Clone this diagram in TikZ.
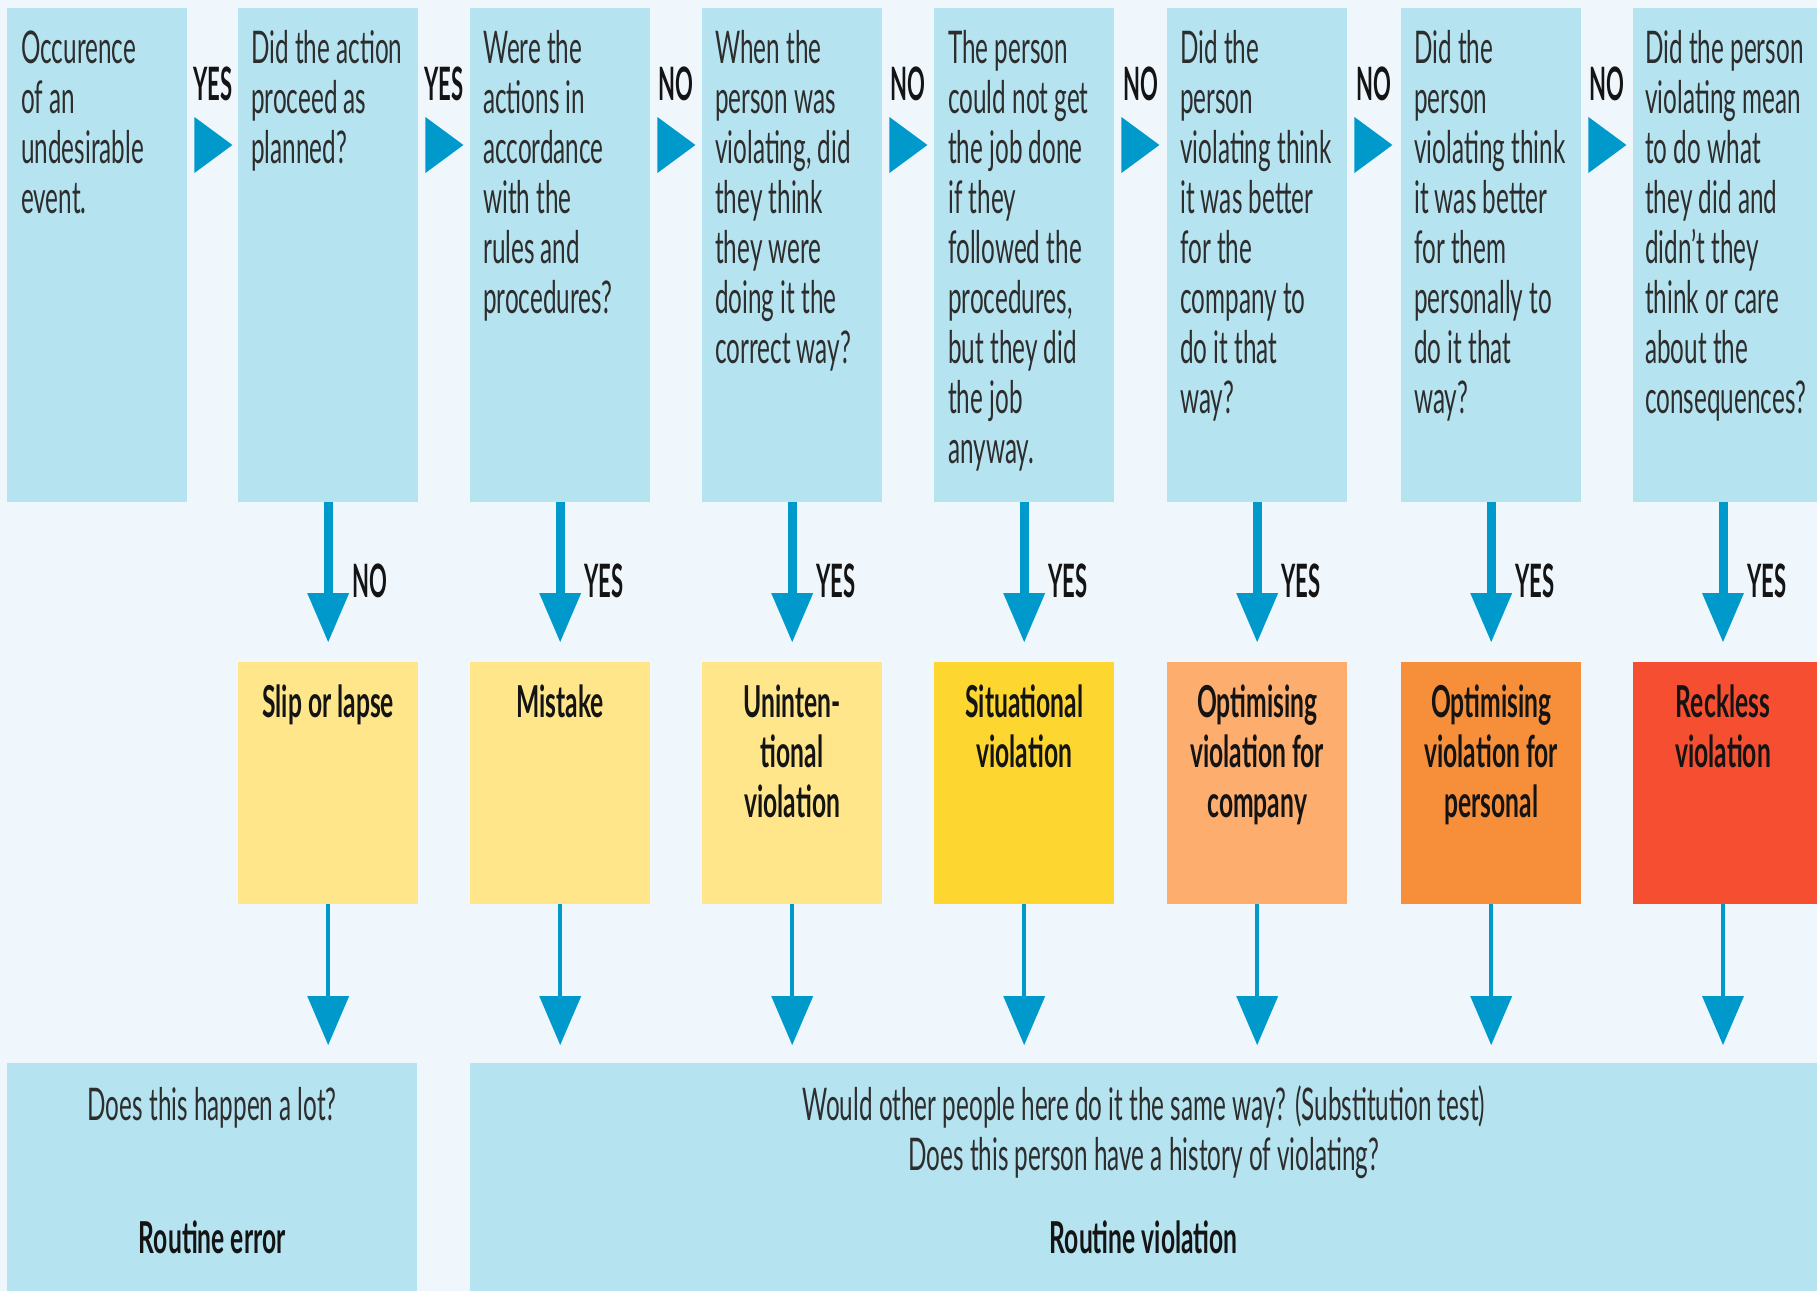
\documentclass[tikz,border=0pt]{standalone}
\usepackage{fontspec}
\setmainfont{Lato}[FakeStretch=0.54]
\newfontfamily\lblfont{Lato}[FakeStretch=0.48]
\newfontfamily\resfont{Lato}[FakeStretch=0.56]
\usetikzlibrary{arrows.meta,calc}
\definecolor{bg}{RGB}{239,247,253}
\definecolor{qblue}{RGB}{181,227,240}
\definecolor{ablue}{RGB}{0,153,204}
\definecolor{ylight}{RGB}{255,230,138}
\definecolor{ysit}{RGB}{254,214,48}
\definecolor{ocomp}{RGB}{253,173,110}
\definecolor{opers}{RGB}{247,143,58}
\definecolor{reck}{RGB}{245,78,48}
\definecolor{txt}{RGB}{45,45,45}
\definecolor{lbl}{RGB}{20,20,20}
\newcommand\firstln{\rule{0pt}{35pt}}
\begin{document}
\begin{tikzpicture}[x=1pt,y=-1pt,
  qbox/.style={rectangle, fill=qblue, draw=none, minimum width=180pt, minimum height=494pt, anchor=north west, inner sep=0pt},
  rbox/.style={rectangle, draw=none, minimum width=180pt, minimum height=242pt, anchor=north west, inner sep=0pt},
  bbox/.style={rectangle, fill=qblue, draw=none, minimum height=228pt, anchor=north west, inner sep=0pt},
  qtext/.style={anchor=north west, inner sep=0pt, align=left, font=\fontsize{45}{50}\selectfont, text=txt},
  rtext/.style={anchor=north, inner sep=0pt, align=center, font=\resfont\bfseries\fontsize{44}{50}\selectfont, text=lbl},
  btext/.style={anchor=base, inner sep=0pt, font=\fontsize{45}{50}\selectfont, text=txt},
  bbold/.style={anchor=base, inner sep=0pt, font=\resfont\bfseries\fontsize{44}{50}\selectfont, text=lbl},
  hlabel/.style={anchor=base, inner sep=0pt, font=\lblfont\bfseries\fontsize{46}{50}\selectfont, text=lbl},
  vlabel/.style={anchor=base west, inner sep=0pt, font=\lblfont\bfseries\fontsize{46}{50}\selectfont, text=lbl},
  htri/.style={fill=ablue, draw=none},
  varrow/.style={draw=ablue, line width=9pt, -{Triangle[width=42pt,length=49pt,line width=0pt]}, shorten >=20pt},
  larrow/.style={draw=ablue, line width=4pt, -{Triangle[width=42pt,length=49pt,line width=0pt]}, shorten >=18pt}
]
\useasboundingbox (0,0) rectangle (1817,1291);
\fill[bg] (0,0) rectangle (1817,1291);

% question boxes
\node[qbox] (q1) at (7,8) {};
\node[qbox] (q2) at (238,8) {};
\node[qbox] (q3) at (470,8) {};
\node[qbox] (q4) at (702,8) {};
\node[qbox] (q5) at (934,8) {};
\node[qbox] (q6) at (1167,8) {};
\node[qbox] (q7) at (1401,8) {};
\node[qbox, minimum width=184pt] (q8) at (1633,8) {};

\node[qtext] (t1) at ($(q1.north west)+(14,20)$) {\firstln Occurence\\of an\\undesirable\\event.};
\node[qtext] (t2) at ($(q2.north west)+(13,20)$) {\firstln Did the action\\proceed as\\planned?};
\node[qtext] (t3) at ($(q3.north west)+(13,20)$) {\firstln Were the\\actions in\\accordance\\with the\\rules and\\procedures?};
\node[qtext] (t4) at ($(q4.north west)+(13,20)$) {\firstln When the\\person was\\violating, did\\they think\\they were\\doing it the\\correct way?};
\node[qtext] (t5) at ($(q5.north west)+(14,20)$) {\firstln The person\\could not get\\the job done\\if they\\followed the\\procedures,\\but they did\\the job\\anyway.};
\node[qtext] (t6) at ($(q6.north west)+(13,20)$) {\firstln Did the\\person\\violating think\\it was better\\for the\\company to\\do it that\\way?};
\node[qtext] (t7) at ($(q7.north west)+(13,20)$) {\firstln Did the\\person\\violating think\\it was better\\for them\\personally to\\do it that\\way?};
\node[qtext] (t8) at ($(q8.north west)+(12,20)$) {\firstln Did the person\\violating mean\\to do what\\they did and\\didn’t they\\think or care\\about the\\consequences?};

% horizontal arrows and labels
\foreach \a/\b/\l in {q1/q2/YES, q2/q3/YES, q3/q4/NO, q4/q5/NO, q5/q6/NO, q6/q7/NO, q7/q8/NO}{
  \fill[htri] ($(\a.north east)+(7,109)$) -- ++(0,56) -- ++(38,-28) -- cycle;
  \node[hlabel] (h-\a) at ($(\a.north east)!.5!(\b.north west)+(0,92)$) {\l};
}

% result boxes
\node[rbox, fill=ylight] (r2) at (238,662) {};
\node[rbox, fill=ylight] (r3) at (470,662) {};
\node[rbox, fill=ylight] (r4) at (702,662) {};
\node[rbox, fill=ysit] (r5) at (934,662) {};
\node[rbox, fill=ocomp] (r6) at (1167,662) {};
\node[rbox, fill=opers] (r7) at (1401,662) {};
\node[rbox, fill=reck, minimum width=184pt] (r8) at (1633,662) {};

\node[rtext] (rt2) at ($(r2.north)+(0,20)$) {\firstln Slip or lapse};
\node[rtext] (rt3) at ($(r3.north)+(0,20)$) {\firstln Mistake};
\node[rtext] (rt4) at ($(r4.north)+(0,20)$) {\firstln Uninten-\\tional\\violation};
\node[rtext] (rt5) at ($(r5.north)+(0,20)$) {\firstln Situational\\violation};
\node[rtext] (rt6) at ($(r6.north)+(0,20)$) {\firstln Optimising\\violation for\\company};
\node[rtext] (rt7) at ($(r7.north)+(0,20)$) {\firstln Optimising\\violation for\\personal};
\node[rtext] (rt8) at ($(r8.north west)+(90,20)$) {\firstln Reckless\\violation};

% anchor points for the clipped last column
\coordinate (q8s) at ($(q8.south west)+(90,0)$);
\coordinate (r8n) at ($(r8.north west)+(90,0)$);
\coordinate (r8s) at ($(r8.south west)+(90,0)$);

% vertical arrows
\draw[varrow] (q2.south) -- (r2.north);
\draw[varrow] (q3.south) -- (r3.north);
\draw[varrow] (q4.south) -- (r4.north);
\draw[varrow] (q5.south) -- (r5.north);
\draw[varrow] (q6.south) -- (r6.north);
\draw[varrow] (q7.south) -- (r7.north);
\draw[varrow] (q8s) -- (r8n);
\node[vlabel] (v2) at ($(q2.south)+(24,95)$) {NO};
\foreach \i in {3,...,7}{
  \node[vlabel] (v\i) at ($(q\i.south)+(24,95)$) {YES};
}
\node[vlabel] (v8) at ($(q8s)+(24,95)$) {YES};

% bottom boxes
\node[bbox, minimum width=410pt] (b1) at (7,1063) {};
\node[bbox, minimum width=1347pt] (b2) at (470,1063) {};

\draw[larrow] (r2.south) -- (r2.south |- b1.north);
\foreach \i in {3,...,7}{
  \draw[larrow] (r\i.south) -- (r\i.south |- b2.north);
}
\draw[larrow] (r8s) -- (r8s |- b2.north);

\node[btext] (bq1) at ($(b1.north)+(0,57)$) {Does this happen a lot?};
\node[bbold] (bl1) at ($(b1.north)+(0,190)$) {Routine error};
\node[qtext, anchor=north, align=center] (bq2) at ($(b2.north)+(0,22)$) {\firstln Would other people here do it the same way? (Substitution test)\\Does this person have a history of violating?};
\node[bbold] (bl2) at ($(b2.north)+(0,190)$) {Routine violation};
\end{tikzpicture}
\end{document}
